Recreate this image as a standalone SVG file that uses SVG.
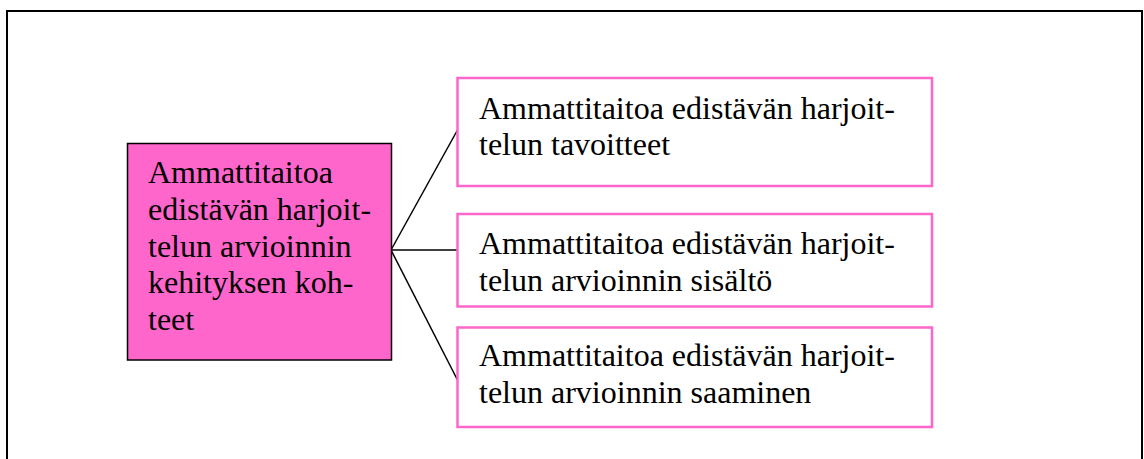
<svg xmlns="http://www.w3.org/2000/svg" width="1144" height="459" viewBox="0 0 1144 459">
<style>
.t{font-family:"Liberation Serif","Times New Roman",serif;font-size:32px;fill:#000}
.box{fill:#fff;stroke:#ff66cc;stroke-width:2.5}
.main{fill:#ff66cc;stroke:#000;stroke-width:1.5}
.c{stroke:#000;stroke-width:1.5;fill:none}
</style>
<rect x="0" y="0" width="1144" height="459" fill="#fff"/>
<rect id="frame" x="7" y="11" width="1135" height="460" fill="none" stroke="#000" stroke-width="2"/>
<g id="connectors">
<line class="c" x1="391" y1="250" x2="457.5" y2="130"/>
<line class="c" x1="391" y1="250" x2="457.5" y2="250"/>
<line class="c" x1="391" y1="250" x2="457.5" y2="380"/>
</g>
<g id="main">
<rect class="main" x="127.5" y="143.5" width="264" height="216.5"/>
<text class="t" x="148" y="183">Ammattitaitoa</text>
<text class="t" x="148" y="219.8">edistävän harjoit-</text>
<text class="t" x="148" y="256.6">telun arvioinnin</text>
<text class="t" x="148" y="293.4">kehityksen koh-</text>
<text class="t" x="148" y="330.2">teet</text>
</g>
<g id="node1">
<rect class="box" x="457.5" y="78" width="474.5" height="108"/>
<text class="t" x="479" y="118.5">Ammattitaitoa edistävän harjoit-</text>
<text class="t" x="479" y="155">telun tavoitteet</text>
</g>
<g id="node2">
<rect class="box" x="457.5" y="214" width="474.5" height="92.5"/>
<text class="t" x="479" y="254">Ammattitaitoa edistävän harjoit-</text>
<text class="t" x="479" y="290.5">telun arvioinnin sisältö</text>
</g>
<g id="node3">
<rect class="box" x="457.5" y="327.5" width="474.5" height="99.5"/>
<text class="t" x="479" y="366">Ammattitaitoa edistävän harjoit-</text>
<text class="t" x="479" y="402.5">telun arvioinnin saaminen</text>
</g>
</svg>
